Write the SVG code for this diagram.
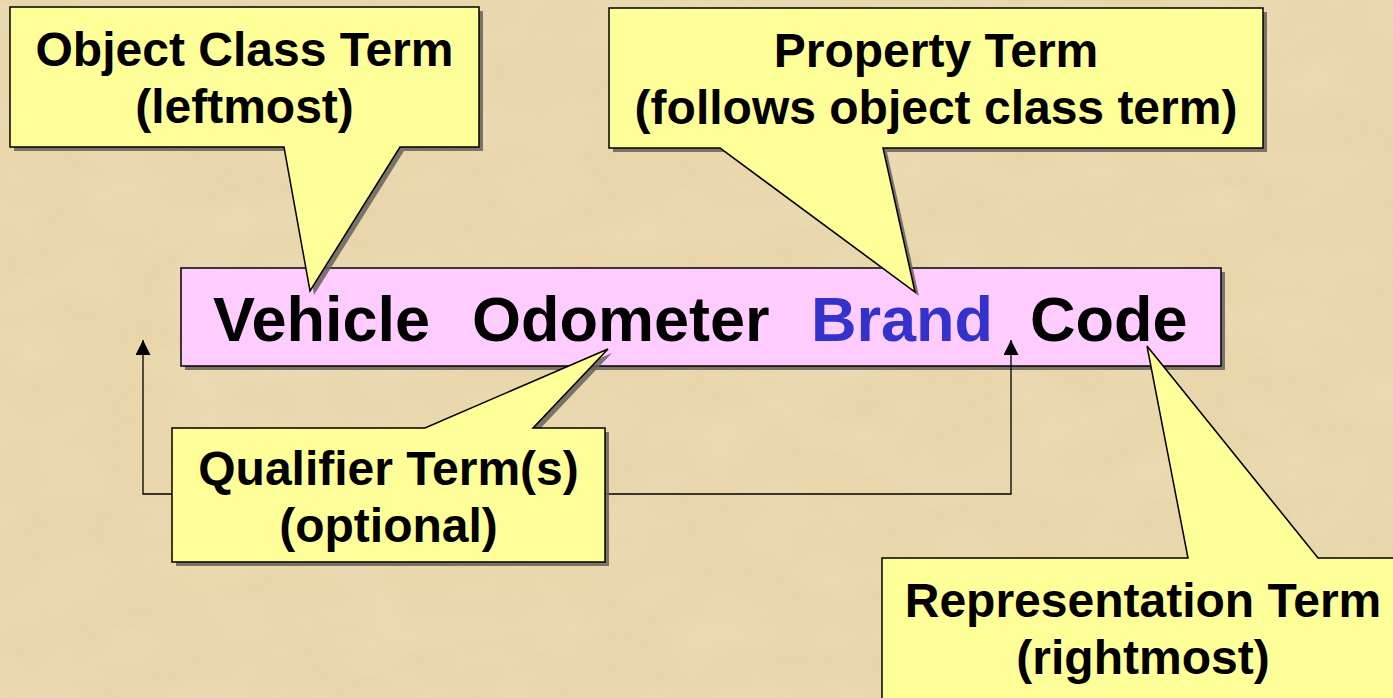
<svg xmlns="http://www.w3.org/2000/svg" width="1393" height="698" viewBox="0 0 1393 698">
<defs>
<filter id="paper" x="0" y="0" width="100%" height="100%">
<feTurbulence type="fractalNoise" baseFrequency="0.012 0.02" numOctaves="4" seed="7" result="n"/>
<feColorMatrix in="n" type="matrix" values="0 0 0 0 0.86  0 0 0 0 0.74  0 0 0 0 0.52  0 0 0 -1.6 1.05"/>
</filter>
<marker id="arr" viewBox="0 0 10 10" refX="10" refY="5" markerWidth="15" markerHeight="15" markerUnits="userSpaceOnUse" orient="auto">
<path d="M0,0 L10,5 L0,10 Z" fill="#000"/>
</marker>
<style>
.shadow{fill:#66625a;opacity:0.85}
.callout{fill:#FFFF99;stroke:#000;stroke-width:1.5;stroke-linejoin:miter}
.main{fill:#FFCCFF;stroke:#000;stroke-width:1.5}
.t{font-family:"Liberation Sans",Arial,sans-serif;font-weight:bold;fill:#000;text-anchor:middle}
.c{font-size:48px}
.big{font-family:"Liberation Sans",Arial,sans-serif;font-weight:bold;font-size:63px;fill:#000}
.conn{fill:none;stroke:#000;stroke-width:1.3}
</style>
</defs>
<rect x="0" y="0" width="1393" height="698" fill="#E9D6AB"/>
<rect x="0" y="0" width="1393" height="698" filter="url(#paper)" opacity="0.55"/>

<g id="main-term">
<rect class="shadow" x="185" y="272" width="1040" height="98"/>
<rect class="main" x="181" y="268" width="1040" height="98"/>
<text class="big" x="213" y="341">Vehicle</text>
<text class="big" x="472" y="341">Odometer</text>
<text class="big" x="811" y="341" style="fill:#3333CC">Brand</text>
<text class="big" x="1030" y="341">Code</text>
</g>

<g id="connectors">
<path class="conn" d="M180,494 H143 V340" marker-end="url(#arr)"/>
<path class="conn" d="M600,494 H1011 V340" marker-end="url(#arr)"/>
</g>

<g id="object-class-term">
<path class="shadow" d="M14,11 H483 V151 H404 L314,295 L288,151 H14 Z"/>
<path class="callout" d="M10,7 H479 V147 H400 L310,291 L284,147 H10 Z"/>
<text class="t c" x="244.5" y="66">Object Class Term</text>
<text class="t c" x="244.5" y="123">(leftmost)</text>
</g>

<g id="property-term">
<path class="shadow" d="M613,12 H1267 V152 H887 L919,296 L724,152 H613 Z"/>
<path class="callout" d="M609,8 H1263 V148 H883 L915,292 L720,148 H609 Z"/>
<text class="t c" x="936" y="67">Property Term</text>
<text class="t c" x="936" y="124">(follows object class term)</text>
</g>

<g id="qualifier-term">
<path class="shadow" d="M176,432 H429 L612,353 L537,432 H609 V566 H176 Z"/>
<path class="callout" d="M172,428 H425 L608,349 L533,428 H605 V562 H172 Z"/>
<text class="t c" x="388.5" y="485">Qualifier Term(s)</text>
<text class="t c" x="388.5" y="542">(optional)</text>
</g>

<g id="representation-term">
<path class="shadow" d="M886,562 H1192 L1151,350 L1322,562 H1404 V709 H886 Z"/>
<path class="callout" d="M882,558 H1188 L1147,346 L1318,558 H1404 V705 H882 Z"/>
<text class="t c" x="1143" y="617">Representation Term</text>
<text class="t c" x="1143" y="674">(rightmost)</text>
</g>
</svg>
